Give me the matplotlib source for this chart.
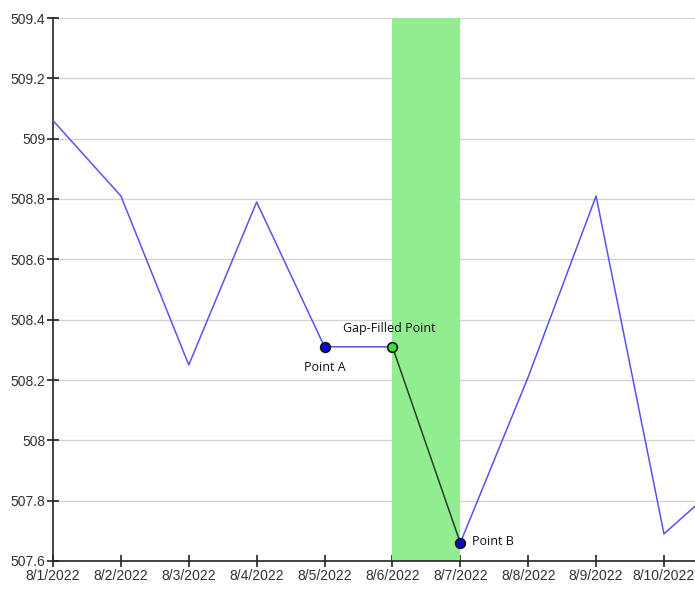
import matplotlib; matplotlib.use("Agg")
import matplotlib.pyplot as plt
from matplotlib.ticker import FuncFormatter

DATES = ["8/1/2022", "8/2/2022", "8/3/2022", "8/4/2022", "8/5/2022", "8/6/2022",
         "8/7/2022", "8/8/2022", "8/9/2022", "8/10/2022", "8/11/2022"]
LEVEL = [509.06, 508.81, 508.25, 508.79, 508.31, 508.31, 507.66, 508.21, 508.81, 507.69, 507.89]
IDX_A, IDX_GAP, IDX_B = 4, 5, 6
GAP_SPAN = (5, 6)

x = list(range(len(DATES)))
fig = plt.figure(figsize=(6.95, 5.89), dpi=100)
ax = fig.add_axes([53 / 695, 28 / 589, 1 - 53 / 695, 543 / 589])

ax.axvspan(*GAP_SPAN, color="#90ee90", zorder=1, lw=0)
# observed series (blue) up to gap point, filled segment dark, then blue again
ax.plot(x[:IDX_GAP + 1], LEVEL[:IDX_GAP + 1], color="#5555ee", lw=1.1, zorder=3)
ax.plot(x[IDX_GAP:IDX_B + 1], LEVEL[IDX_GAP:IDX_B + 1], color="#2b3b2b", lw=1.1, zorder=3)
ax.plot(x[IDX_B:], LEVEL[IDX_B:], color="#5555ee", lw=1.1, zorder=3)

for i, c in [(IDX_A, "#0a0acc"), (IDX_GAP, "#44dd33"), (IDX_B, "#0a0acc")]:
    ax.plot(x[i], LEVEL[i], "o", ms=7, mfc=c, mec="#111111", mew=1.2, zorder=4)

tf = dict(fontsize=9, family="Open Sans", color="#111111", zorder=5)
ax.text(x[IDX_A], LEVEL[IDX_A] - 0.07, "Point A", ha="center", va="center", **tf)
ax.text(x[IDX_GAP] - 0.05, LEVEL[IDX_GAP] + 0.06, "Gap-Filled Point", ha="center", va="center", **tf)
ax.text(x[IDX_B] + 0.17, LEVEL[IDX_B] + 0.005, "Point B", ha="left", va="center", **tf)

ax.set_xlim(0, 9 + 31 / 67.8)
ax.set_ylim(507.6, 509.4)
ax.set_yticks([507.6 + 0.2 * k for k in range(10)])
ax.yaxis.set_major_formatter(FuncFormatter(lambda v, p: f"{round(v, 1):g}"))
ax.set_xticks(x[:10]); ax.set_xticklabels(DATES[:10])
ax.grid(axis="y", color="#d3d3d3", lw=1, zorder=0)
ax.set_axisbelow(True)
for s in ("top", "right"):
    ax.spines[s].set_visible(False)
for s in ("left", "bottom"):
    ax.spines[s].set_color("#222222"); ax.spines[s].set_linewidth(1.2)
ax.tick_params(direction="inout", length=9, width=1.2, color="#222222",
               labelsize=10, labelcolor="#333333", pad=1)
for lab in ax.get_xticklabels() + ax.get_yticklabels():
    lab.set_family("Liberation Sans")

fig.savefig("out.png", dpi=100)
